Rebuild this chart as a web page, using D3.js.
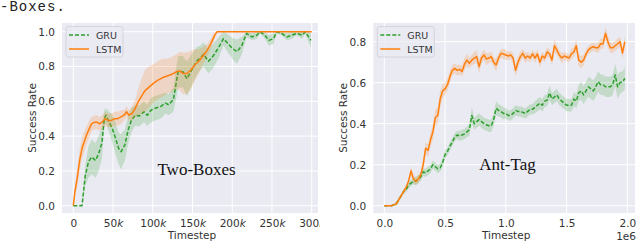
<!DOCTYPE html>
<html>
<head>
<meta charset="utf-8">
<script src="https://cdn.jsdelivr.net/npm/d3@7"></script>
<style>
  body { margin: 0; background: #fff; }
  svg { display: block; }
  .tick text { font-family: "DejaVu Sans", sans-serif; font-size: 10.5px; fill: #333; }
</style>
</head>
<body>
<svg id="chart" width="640" height="245"></svg>
<script>
// ---- Two-Boxes (timesteps in thousands) ----
const tbLstmSteps = [0, 2, 5, 8, 11, 14, 17, 20, 23, 27, 30, 33, 36, 40, 44, 48, 52, 56, 60, 64,
  67, 70, 74, 78, 82, 86, 90, 95, 100, 106, 112, 118, 124, 130, 134, 138, 143, 148, 153, 158,
  163, 168, 173, 178, 181, 300];
const tbLstmMean = [0, 0.08, 0.16, 0.26, 0.33, 0.37, 0.41, 0.44, 0.47, 0.48, 0.48, 0.47, 0.48, 0.50, 0.49, 0.49, 0.50, 0.50, 0.51, 0.52,
  0.54, 0.52, 0.53, 0.56, 0.60, 0.63, 0.66, 0.68, 0.70, 0.72, 0.735, 0.745, 0.755, 0.77, 0.775, 0.76, 0.76, 0.78, 0.81, 0.83,
  0.86, 0.89, 0.93, 0.98, 1.0, 1.0];
const tbLstmSd = [0, 0.03, 0.05, 0.06, 0.06, 0.06, 0.05, 0.05, 0.04, 0.04, 0.04, 0.04, 0.04, 0.04, 0.04, 0.04, 0.04, 0.04, 0.04, 0.03,
  0.03, 0.03, 0.04, 0.05, 0.08, 0.10, 0.12, 0.12, 0.11, 0.11, 0.11, 0.10, 0.10, 0.10, 0.11, 0.12, 0.12, 0.11, 0.09, 0.07,
  0.05, 0.04, 0.03, 0.02, 0, 0];

const tbGruSteps = [0, 5, 11, 15, 19, 23, 28, 32, 36, 39, 41, 45, 49, 53, 57, 60, 65, 69, 73, 78,
  83, 89, 93, 98, 103, 110, 116, 120, 126, 130, 132, 138, 143, 149, 155, 160, 164, 170, 176, 183,
  189, 193, 200, 206, 212, 218, 225, 231, 235, 241, 246, 252, 256, 262, 269, 275, 281, 288, 292, 296, 299];
const tbGruMean = [0, 0, 0, 0.17, 0.25, 0.28, 0.26, 0.30, 0.36, 0.50, 0.52, 0.48, 0.445, 0.39, 0.33, 0.31, 0.35, 0.435, 0.49, 0.52,
  0.515, 0.54, 0.52, 0.55, 0.56, 0.57, 0.59, 0.58, 0.61, 0.72, 0.77, 0.77, 0.73, 0.78, 0.83, 0.85, 0.87, 0.83, 0.86, 0.91,
  0.96, 0.94, 0.905, 0.885, 0.92, 0.99, 0.97, 0.98, 1.0, 0.98, 0.95, 0.96, 1.0, 0.99, 0.97, 0.98, 0.99, 0.98, 1.0, 0.97, 0.95];
const tbGruSd = [0, 0, 0.01, 0.06, 0.09, 0.10, 0.10, 0.10, 0.09, 0.05, 0.04, 0.06, 0.08, 0.09, 0.09, 0.10, 0.09, 0.08, 0.07, 0.06,
  0.06, 0.06, 0.06, 0.07, 0.07, 0.07, 0.06, 0.06, 0.07, 0.09, 0.09, 0.09, 0.10, 0.09, 0.08, 0.07, 0.07, 0.07, 0.07, 0.06,
  0.04, 0.05, 0.06, 0.07, 0.05, 0.02, 0.02, 0.02, 0.01, 0.02, 0.03, 0.03, 0.01, 0.01, 0.02, 0.02, 0.01, 0.02, 0.01, 0.03, 0.04];

const tbXTicks = [0, 50, 100, 150, 200, 250, 300];
const tbYTicks = [0, 0.2, 0.4, 0.6, 0.8, 1.0];

// ---- Ant-Tag (timesteps in 1e6) ----
const atSteps = [0, 0.02, 0.04, 0.06, 0.08, 0.10, 0.12, 0.14, 0.16, 0.18,
  0.20, 0.22, 0.24, 0.26, 0.28, 0.30, 0.32, 0.34, 0.36, 0.38,
  0.40, 0.42, 0.44, 0.46, 0.48, 0.50, 0.52, 0.54, 0.56, 0.58,
  0.60, 0.62, 0.64, 0.66, 0.68, 0.70, 0.72, 0.74, 0.76, 0.78,
  0.80, 0.82, 0.84, 0.86, 0.88, 0.90, 0.92, 0.94, 0.96, 0.98,
  1.00, 1.02, 1.04, 1.06, 1.08, 1.10, 1.12, 1.14, 1.16, 1.18,
  1.20, 1.22, 1.24, 1.26, 1.28, 1.30, 1.32, 1.34, 1.36, 1.38,
  1.40, 1.42, 1.44, 1.46, 1.48, 1.50, 1.52, 1.54, 1.56, 1.58,
  1.60, 1.62, 1.64, 1.66, 1.68, 1.70, 1.72, 1.74, 1.76, 1.78,
  1.80, 1.82, 1.84, 1.86, 1.88, 1.90, 1.92, 1.94, 1.96, 1.98];
const atLstmMean = [0, 0, 0, 0, 0.005, 0.01, 0.03, 0.05, 0.07, 0.09,
  0.12, 0.17, 0.13, 0.12, 0.13, 0.15, 0.20, 0.28, 0.27, 0.32,
  0.36, 0.43, 0.44, 0.52, 0.56, 0.57, 0.59, 0.63, 0.66, 0.67,
  0.66, 0.665, 0.655, 0.69, 0.71, 0.695, 0.71, 0.72, 0.727, 0.678,
  0.72, 0.735, 0.715, 0.72, 0.727, 0.70, 0.686, 0.72, 0.743, 0.74,
  0.735, 0.73, 0.735, 0.72, 0.66, 0.70, 0.727, 0.743, 0.72, 0.73,
  0.72, 0.74, 0.72, 0.74, 0.70, 0.73, 0.72, 0.75, 0.74, 0.71,
  0.78, 0.76, 0.735, 0.72, 0.73, 0.725, 0.72, 0.74, 0.75, 0.78,
  0.71, 0.70, 0.71, 0.74, 0.76, 0.77, 0.775, 0.77, 0.77, 0.79,
  0.79, 0.84, 0.80, 0.77, 0.77, 0.78, 0.79, 0.80, 0.745, 0.80];
const atLstmSd = [0, 0, 0, 0, 0.005, 0.01, 0.01, 0.01, 0.01, 0.01,
  0.015, 0.02, 0.02, 0.02, 0.02, 0.02, 0.025, 0.03, 0.03, 0.035,
  0.035, 0.04, 0.04, 0.04, 0.035, 0.03, 0.03, 0.03, 0.025, 0.025,
  0.025, 0.025, 0.025, 0.03, 0.03, 0.025, 0.025, 0.03, 0.03, 0.035,
  0.025, 0.025, 0.03, 0.025, 0.025, 0.025, 0.03, 0.025, 0.02, 0.025,
  0.025, 0.02, 0.02, 0.025, 0.03, 0.03, 0.025, 0.02, 0.025, 0.02,
  0.02, 0.02, 0.025, 0.02, 0.025, 0.02, 0.02, 0.025, 0.02, 0.025,
  0.03, 0.025, 0.02, 0.025, 0.02, 0.02, 0.02, 0.025, 0.025, 0.03,
  0.03, 0.03, 0.025, 0.02, 0.02, 0.02, 0.02, 0.02, 0.025, 0.025,
  0.025, 0.03, 0.03, 0.025, 0.025, 0.025, 0.025, 0.025, 0.03, 0.025];
const atGruMean = [0, 0, 0, 0, 0.005, 0.01, 0.03, 0.05, 0.07, 0.08,
  0.10, 0.11, 0.12, 0.12, 0.13, 0.14, 0.165, 0.16, 0.17, 0.18,
  0.20, 0.19, 0.18, 0.185, 0.21, 0.25, 0.265, 0.29, 0.31, 0.335,
  0.345, 0.34, 0.345, 0.35, 0.36, 0.37, 0.44, 0.40, 0.41, 0.42,
  0.41, 0.40, 0.395, 0.39, 0.39, 0.42, 0.475, 0.465, 0.46, 0.45,
  0.45, 0.44, 0.44, 0.45, 0.465, 0.46, 0.46, 0.455, 0.45, 0.46,
  0.47, 0.47, 0.48, 0.49, 0.50, 0.49, 0.51, 0.515, 0.55, 0.52,
  0.53, 0.54, 0.52, 0.51, 0.50, 0.49, 0.49, 0.49, 0.52, 0.51,
  0.55, 0.56, 0.54, 0.56, 0.58, 0.57, 0.56, 0.58, 0.605, 0.59,
  0.59, 0.58, 0.58, 0.58, 0.59, 0.638, 0.58, 0.60, 0.605, 0.62];
const atGruSd = [0, 0, 0, 0, 0.005, 0.01, 0.01, 0.01, 0.01, 0.015,
  0.015, 0.015, 0.015, 0.02, 0.02, 0.02, 0.02, 0.02, 0.02, 0.02,
  0.02, 0.02, 0.02, 0.02, 0.02, 0.02, 0.02, 0.02, 0.02, 0.02,
  0.02, 0.025, 0.025, 0.025, 0.025, 0.03, 0.04, 0.03, 0.03, 0.03,
  0.03, 0.03, 0.03, 0.03, 0.03, 0.03, 0.035, 0.03, 0.03, 0.03,
  0.025, 0.025, 0.025, 0.025, 0.025, 0.025, 0.025, 0.025, 0.025, 0.025,
  0.025, 0.025, 0.03, 0.03, 0.03, 0.03, 0.03, 0.03, 0.035, 0.03,
  0.03, 0.03, 0.03, 0.03, 0.03, 0.03, 0.03, 0.03, 0.035, 0.035,
  0.04, 0.045, 0.045, 0.045, 0.05, 0.05, 0.05, 0.05, 0.05, 0.05,
  0.05, 0.05, 0.05, 0.05, 0.05, 0.055, 0.06, 0.055, 0.05, 0.055];

const atXTicks = [0, 0.5, 1.0, 1.5, 2.0];
const atYTicks = [0, 0.2, 0.4, 0.6, 0.8];

const GRU_COLOR = "#2ca02c";
const LSTM_COLOR = "#ff7f0e";
const BG = "#eaeaf2";

const svg = d3.select("#chart");

function zip(xs, means, sds) {
    return xs.map((x, i) => ({ x, y: means[i], sd: sds[i] }));
}

function drawPanel(opts) {
    const { id, left, right, top, bottom, xDomain, yDomain, xTicks, yTicks, xFormat } = opts;

    const outer = svg.append("g");
    if (opts.clipWidth) {
        outer.append("clipPath").attr("id", id + "-outer")
            .append("rect").attr("x", 0).attr("y", 0).attr("width", opts.clipWidth).attr("height", 245);
        outer.attr("clip-path", `url(#${id}-outer)`);
    }

    const x = d3.scaleLinear().domain(xDomain).range([left, right]);
    const y = d3.scaleLinear().domain(yDomain).range([bottom, top]);

    // Background + white grid (seaborn darkgrid)
    outer.append("rect")
        .attr("x", left).attr("y", top)
        .attr("width", right - left).attr("height", bottom - top)
        .attr("fill", BG);

    outer.append("g").selectAll("line.vx")
        .data(xTicks).enter().append("line")
        .attr("x1", d => x(d)).attr("x2", d => x(d))
        .attr("y1", top).attr("y2", bottom)
        .attr("stroke", "#fff").attr("stroke-width", 1);
    outer.append("g").selectAll("line.hy")
        .data(yTicks).enter().append("line")
        .attr("x1", left).attr("x2", right)
        .attr("y1", d => y(d)).attr("y2", d => y(d))
        .attr("stroke", "#fff").attr("stroke-width", 1);

    // Axes (no ticks, no spine)
    const xAxis = outer.append("g")
        .attr("transform", `translate(0,${bottom})`)
        .call(d3.axisBottom(x).tickValues(xTicks).tickSize(0).tickPadding(7).tickFormat(xFormat));
    xAxis.select(".domain").remove();

    const yAxis = outer.append("g")
        .attr("transform", `translate(${left},0)`)
        .call(d3.axisLeft(y).tickValues(yTicks).tickSize(0).tickPadding(7).tickFormat(d3.format(".1f")));
    yAxis.select(".domain").remove();

    if (opts.italicK) {
        xAxis.selectAll(".tick text").each(function (d) {
            const t = d3.select(this);
            t.text(null);
            if (d === 0) { t.text("0"); return; }
            t.append("tspan").text(d);
            t.append("tspan").attr("font-style", "italic").text("k");
        });
    }

    // Axis labels
    outer.append("text")
        .attr("x", (left + right) / 2 + 2).attr("y", 238.5)
        .attr("text-anchor", "middle")
        .attr("font-family", "DejaVu Sans, sans-serif").attr("font-size", 10.5).attr("fill", "#333")
        .text("Timestep");
    outer.append("text")
        .attr("transform", `translate(${opts.ylabelX},${(top + bottom) / 2}) rotate(-90)`)
        .attr("text-anchor", "middle")
        .attr("font-family", "DejaVu Sans, sans-serif").attr("font-size", 10.5).attr("fill", "#333")
        .text("Success Rate");

    // Plot area
    const clipId = id + "-plot";
    outer.append("clipPath").attr("id", clipId)
        .append("rect").attr("x", left).attr("y", top).attr("width", right - left).attr("height", bottom - top);
    const plot = outer.append("g").attr("clip-path", `url(#${clipId})`);

    const area = d3.area()
        .x(d => x(d.x))
        .y0(d => y(Math.max(0, d.y - d.sd)))
        .y1(d => y(Math.min(1, d.y + d.sd)));
    const line = d3.line().x(d => x(d.x)).y(d => y(d.y));

    opts.series.forEach(s => {
        plot.append("path").datum(s.data)
            .attr("d", area).attr("fill", s.color).attr("opacity", 0.2);
        plot.append("path").datum(s.data)
            .attr("d", line).attr("fill", "none")
            .attr("stroke", s.color).attr("stroke-width", 1.5)
            .attr("stroke-dasharray", s.dash || null)
            .attr("stroke-linejoin", "round");
    });

    // Legend
    const lg = outer.append("g").attr("transform", `translate(${left + 4},${top + 3.5})`);
    lg.append("rect")
        .attr("width", 57).attr("height", 30.5).attr("rx", 2.5)
        .attr("fill", BG).attr("fill-opacity", 0.8)
        .attr("stroke", "#cfcfd6").attr("stroke-width", 0.8);
    opts.series.forEach((s, i) => {
        const yy = 8.5 + i * 14;
        lg.append("line")
            .attr("x1", 3).attr("x2", 23).attr("y1", yy).attr("y2", yy)
            .attr("stroke", s.color).attr("stroke-width", 1.5)
            .attr("stroke-dasharray", s.dash || null);
        lg.append("text")
            .attr("x", 30).attr("y", yy + 3.5)
            .attr("font-family", "DejaVu Sans, sans-serif").attr("font-size", 9.5).attr("fill", "#333")
            .text(s.name);
    });

    // Task annotation
    outer.append("text")
        .attr("x", opts.noteX).attr("y", opts.noteY)
        .attr("text-anchor", "middle")
        .attr("font-family", "Liberation Serif, serif").attr("font-size", 17).attr("fill", "#111")
        .text(opts.note);

    return outer;
}

// Caption fragment at the top-left
svg.append("text")
    .attr("x", 0).attr("y", 11)
    .attr("font-family", "Liberation Mono, monospace").attr("font-size", 14)
    .attr("letter-spacing", 1).attr("fill", "#222")
    .text("-Boxes.");

drawPanel({
    id: "tb", left: 62, right: 318, top: 23, bottom: 213,
    xDomain: [-14.2, 307.9], yDomain: [-0.042, 1.05],
    xTicks: tbXTicks, yTicks: tbYTicks, xFormat: d => d, italicK: true,
    clipWidth: 320, ylabelX: 35.5,
    note: "Two-Boxes", noteX: 196.5, noteY: 175,
    series: [
        { name: "GRU", color: GRU_COLOR, dash: "4,2", data: zip(tbGruSteps, tbGruMean, tbGruSd) },
        { name: "LSTM", color: LSTM_COLOR, data: zip(tbLstmSteps, tbLstmMean, tbLstmSd) }
    ]
});

drawPanel({
    id: "at", left: 373.3, right: 635, top: 23, bottom: 213,
    xDomain: [-0.0905, 2.063], yDomain: [-0.0356, 0.891],
    xTicks: atXTicks, yTicks: atYTicks, xFormat: d3.format(".1f"),
    ylabelX: 346.5,
    note: "Ant-Tag", noteX: 507.5, noteY: 169.5,
    series: [
        { name: "GRU", color: GRU_COLOR, dash: "4,2", data: zip(atSteps, atGruMean, atGruSd) },
        { name: "LSTM", color: LSTM_COLOR, data: zip(atSteps, atLstmMean, atLstmSd) }
    ]
});

// Offset label for the 1e6 scale
svg.append("text")
    .attr("x", 636).attr("y", 240)
    .attr("text-anchor", "end")
    .attr("font-family", "DejaVu Sans, sans-serif").attr("font-size", 10.5).attr("fill", "#333")
    .text("1e6");
</script>
</body>
</html>
